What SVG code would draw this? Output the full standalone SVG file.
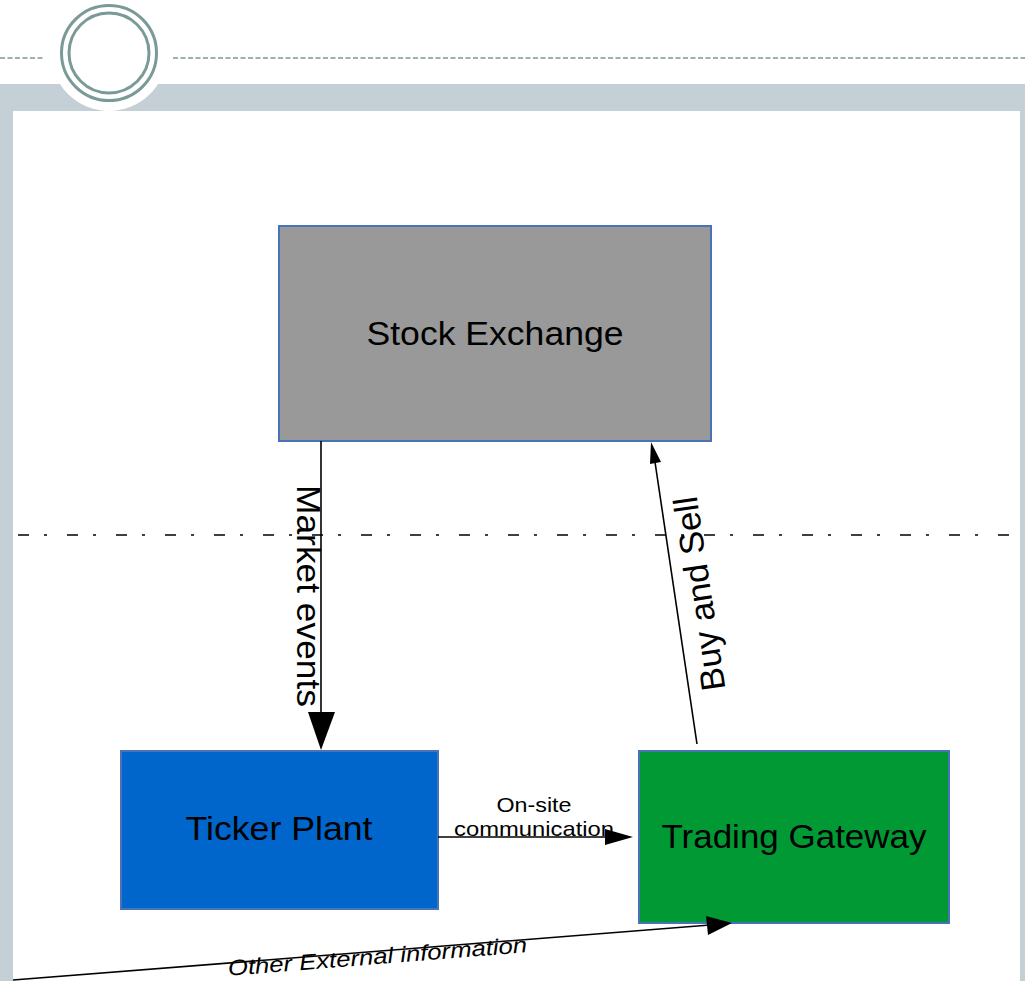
<svg xmlns="http://www.w3.org/2000/svg" width="1025" height="981" viewBox="0 0 1025 981">
<style>
.box{stroke:#4a72b8;stroke-width:2}
.lbl{font-family:"Liberation Sans",Arial,sans-serif;fill:#000}
.big{font-size:33px}
.conn{stroke:#000;stroke-width:1.6;fill:none}
.head{fill:#000;stroke:none}
</style>
<g id="background">
<rect x="0" y="0" width="1025" height="981" fill="#ffffff"/>
<rect x="0" y="84" width="1025" height="897" fill="#c5d0d6"/>
<rect x="13" y="111" width="1007" height="870" fill="#ffffff"/>
<line x1="0" y1="58" x2="44" y2="58" stroke="#7a9a98" stroke-width="1.6" stroke-dasharray="5 2.5"/>
<line x1="173" y1="58" x2="1025" y2="58" stroke="#7a9a98" stroke-width="1.6" stroke-dasharray="5 2.5"/>
<circle cx="109" cy="53" r="58" fill="#ffffff"/>
<circle cx="109" cy="53" r="47.5" fill="none" stroke="#7a9a98" stroke-width="3"/>
<circle cx="109" cy="53" r="40" fill="none" stroke="#7a9a98" stroke-width="3"/>
<line x1="18" y1="535" x2="1020" y2="535" stroke="#000" stroke-width="1.5" stroke-dasharray="11 15 3 20"/>
</g>
<g id="stock-exchange">
<rect class="box" x="279" y="226" width="432" height="215" fill="#999999"/>
<text class="lbl big" x="495" y="345" text-anchor="middle" textLength="257" lengthAdjust="spacingAndGlyphs">Stock Exchange</text>
</g>
<g id="ticker-plant">
<rect class="box" x="121" y="751" width="317" height="158" fill="#0066cc"/>
<text class="lbl big" x="279" y="840" text-anchor="middle" textLength="187" lengthAdjust="spacingAndGlyphs">Ticker Plant</text>
</g>
<g id="trading-gateway">
<rect class="box" x="639" y="751" width="310" height="172" fill="#009933"/>
<text class="lbl big" x="794" y="848" text-anchor="middle" textLength="265" lengthAdjust="spacingAndGlyphs">Trading Gateway</text>
</g>
<g id="connectors">
<line class="conn" x1="321" y1="441" x2="321" y2="715"/>
<polygon class="head" points="308,712 335,712 321,750"/>
<text class="lbl" font-size="34" transform="translate(297,596) rotate(90)" text-anchor="middle" textLength="222" lengthAdjust="spacingAndGlyphs">Market events</text>

<line class="conn" x1="697" y1="744" x2="655" y2="462"/>
<polygon class="head" points="651,442 661,462 650,464"/>
<text class="lbl" font-size="34" transform="translate(711,592) rotate(-98.5)" text-anchor="middle" textLength="196" lengthAdjust="spacingAndGlyphs">Buy and Sell</text>

<line class="conn" x1="438" y1="837" x2="608" y2="837"/>
<polygon class="head" points="605,829 633,837 605,845"/>
<text class="lbl" font-size="21" x="534" y="812" text-anchor="middle" textLength="75" lengthAdjust="spacingAndGlyphs">On-site</text>
<text class="lbl" font-size="21" x="534" y="836" text-anchor="middle" textLength="160" lengthAdjust="spacingAndGlyphs">communication</text>

<line class="conn" x1="13" y1="980" x2="710" y2="925"/>
<polygon class="head" points="706,916 732,923 708,935"/>
<text class="lbl" font-size="22" font-style="italic" transform="translate(378,964) rotate(-4.5)" text-anchor="middle" textLength="300" lengthAdjust="spacingAndGlyphs">Other External information</text>
</g>
</svg>
